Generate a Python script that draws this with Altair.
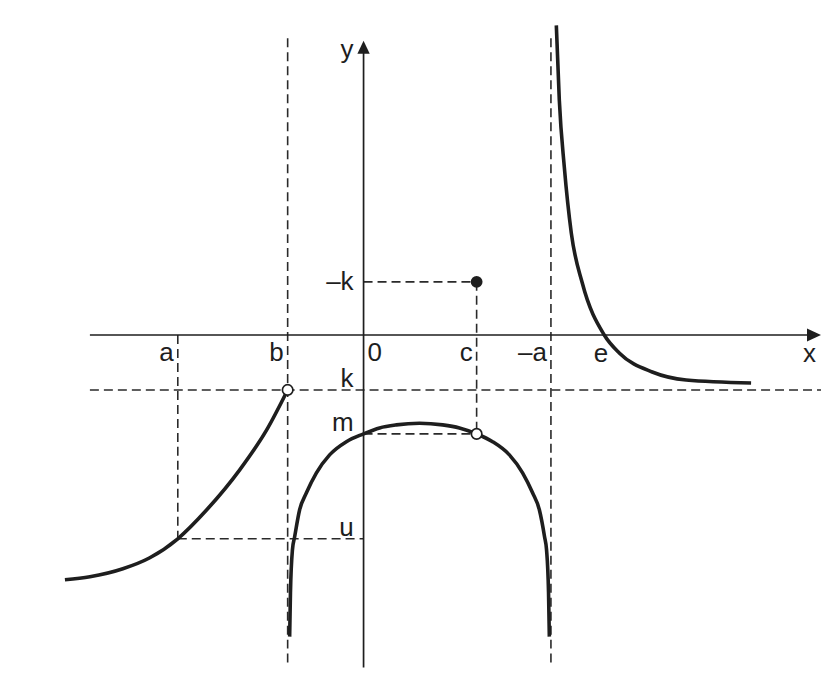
import altair as alt
import pandas as pd

# ---- key values (math units) ----
A_VAL = -4.65      # a
NEG_A = 4.69       # -a
B_VAL = -1.9       # b
C_VAL = 2.83       # c
E_VAL = 6.02       # e
K_VAL = -1.375     # k
NEG_K = 1.33       # -k
M_VAL = -2.475     # m
U_VAL = -5.1       # u

# frame extents (math units)
X_LEFT = -6.85
X_RIGHT = 11.45
X_ARROW = 11.275
Y_TOP_DASH = 7.425
Y_BOTTOM = -8.325
Y_ARROW = 7.2

# ---- curve points ----
left_x = [-7.475, -6.85, -6.025, -5.35, -4.65, -3.925, -3.1, -2.425, -1.9]
left_y = [-6.125, -6.05, -5.85, -5.575, -5.1, -4.375, -3.375, -2.375, -1.375]

mid_x = [-1.85, -1.83, -1.78, -1.725, -1.6, -1.43, -1.18, -0.85, -0.43, 0.0, 0.4, 0.82,
         1.4, 1.98, 2.4, 2.83, 3.23, 3.65, 3.98, 4.23, 4.4, 4.53, 4.58, 4.63, 4.65]
mid_y = [-7.55, -6.45, -5.375, -5.05, -4.375, -3.95, -3.45, -3.0, -2.67, -2.475, -2.325, -2.25,
         -2.21, -2.25, -2.325, -2.475, -2.67, -3.0, -3.45, -3.95, -4.375, -5.05, -5.375, -6.45, -7.55]

right_x = [4.825, 4.9, 5.025, 5.2, 5.475, 6.025, 6.4, 7.225, 8.075, 9.7]
right_y = [7.75, 5.875, 4.2, 2.55, 1.3, 0.0, -0.45, -0.925, -1.125, -1.2]

# ---- labels ----
xaxis_labels = ["a", "b", "c", "–a"]
xaxis_values = [A_VAL, B_VAL, C_VAL, NEG_A]
yaxis_labels = ["k", "m", "u"]
yaxis_values = [K_VAL, M_VAL, U_VAL]

FONT = "Liberation Sans"
FS = 26
INK = "#1e1e1e"

xs = alt.Scale(domain=[-8.9, 11.45], nice=False, zero=False)
ys = alt.Scale(domain=[-8.5, 8.175], nice=False, zero=False)


def X(f="x"):
    return alt.X(f + ":Q", scale=xs, axis=None)


def Y(f="y"):
    return alt.Y(f + ":Q", scale=ys, axis=None)


curves = pd.concat([
    pd.DataFrame({"x": left_x, "y": left_y, "curve": "left"}),
    pd.DataFrame({"x": mid_x, "y": mid_y, "curve": "mid"}),
    pd.DataFrame({"x": right_x, "y": right_y, "curve": "right"}),
], ignore_index=True)

dashed = pd.DataFrame([
    {"x": B_VAL, "y": Y_TOP_DASH, "x2": B_VAL, "y2": Y_BOTTOM},
    {"x": NEG_A, "y": Y_TOP_DASH, "x2": NEG_A, "y2": Y_BOTTOM},
    {"x": X_LEFT, "y": K_VAL, "x2": X_RIGHT, "y2": K_VAL},
    {"x": 0, "y": NEG_K, "x2": C_VAL, "y2": NEG_K},
    {"x": C_VAL, "y": NEG_K, "x2": C_VAL, "y2": M_VAL},
    {"x": 0, "y": M_VAL, "x2": C_VAL, "y2": M_VAL},
    {"x": A_VAL, "y": 0, "x2": A_VAL, "y2": U_VAL},
    {"x": A_VAL, "y": U_VAL, "x2": 0, "y2": U_VAL},
])

axes = pd.DataFrame([
    {"x": X_LEFT, "y": 0, "x2": X_ARROW, "y2": 0},
    {"x": 0, "y": Y_BOTTOM, "x2": 0, "y2": Y_ARROW},
])

dash_layer = alt.Chart(dashed).mark_rule(
    color="#2a2a2a", strokeWidth=1.6, strokeDash=[9, 5]
).encode(x=X(), y=Y(), x2="x2:Q", y2="y2:Q")

axis_layer = alt.Chart(axes).mark_rule(color=INK, strokeWidth=1.7).encode(
    x=X(), y=Y(), x2="x2:Q", y2="y2:Q")

arrow_x = alt.Chart(pd.DataFrame({"x": [X_ARROW], "y": [0]})).mark_point(
    shape="M1,0L-1,-0.93L-1,0.93Z", filled=True, color=INK, size=196, opacity=1
).encode(x=X(), y=Y())

arrow_y = alt.Chart(pd.DataFrame({"x": [0], "y": [Y_ARROW]})).mark_point(
    shape="M0,-1L0.95,1L-0.95,1Z", filled=True, color=INK, size=169, opacity=1
).encode(x=X(), y=Y())

curve_layer = alt.Chart(curves).mark_line(
    interpolate="monotone", color=INK, strokeWidth=3.6
).encode(x=X(), y=Y(), detail="curve:N")

open_pts = alt.Chart(pd.DataFrame({"x": [B_VAL, C_VAL], "y": [K_VAL, M_VAL]})).mark_point(
    shape="circle", filled=True, fill="white", stroke=INK, strokeWidth=1.7, size=110, opacity=1
).encode(x=X(), y=Y())

filled_pt = alt.Chart(pd.DataFrame({"x": [C_VAL], "y": [NEG_K]})).mark_circle(
    color=INK, size=140, opacity=1
).encode(x=X(), y=Y())


def text_layer(df, **kw):
    return alt.Chart(df).mark_text(font=FONT, fontSize=FS, color=INK, **kw).encode(
        x=X(), y=Y(), text="t:N")


t_xaxis = text_layer(pd.DataFrame({"x": xaxis_values, "y": 0, "t": xaxis_labels}),
                     align="right", baseline="alphabetic", dx=-4, dy=26)
t_zero = text_layer(pd.DataFrame({"x": [0], "y": [0], "t": ["0"]}),
                    align="left", baseline="alphabetic", dx=4, dy=26)
t_e = text_layer(pd.DataFrame({"x": [E_VAL], "y": [0], "t": ["e"]}),
                 align="center", baseline="alphabetic", dx=-3, dy=27)
t_x = text_layer(pd.DataFrame({"x": [X_ARROW], "y": [0], "t": ["x"]}),
                 align="right", baseline="alphabetic", dx=2, dy=27)
t_y = text_layer(pd.DataFrame({"x": [0], "y": [Y_ARROW], "t": ["y"]}),
                 align="right", baseline="alphabetic", dx=-10, dy=11)
t_yaxis = text_layer(pd.DataFrame({"x": 0, "y": yaxis_values, "t": yaxis_labels}),
                     align="right", baseline="alphabetic", dx=-10, dy=-3)
t_negk = text_layer(pd.DataFrame({"x": [0], "y": [NEG_K], "t": ["–k"]}),
                    align="right", baseline="middle", dx=-10, dy=0)

chart = alt.layer(
    dash_layer, axis_layer, arrow_x, arrow_y, curve_layer, open_pts, filled_pt,
    t_xaxis, t_zero, t_e, t_x, t_y, t_yaxis, t_negk
).properties(width=814, height=667, padding=0, background="white").configure_view(stroke=None)

chart.save("out.html", embed_options={"renderer": "svg", "actions": False})
